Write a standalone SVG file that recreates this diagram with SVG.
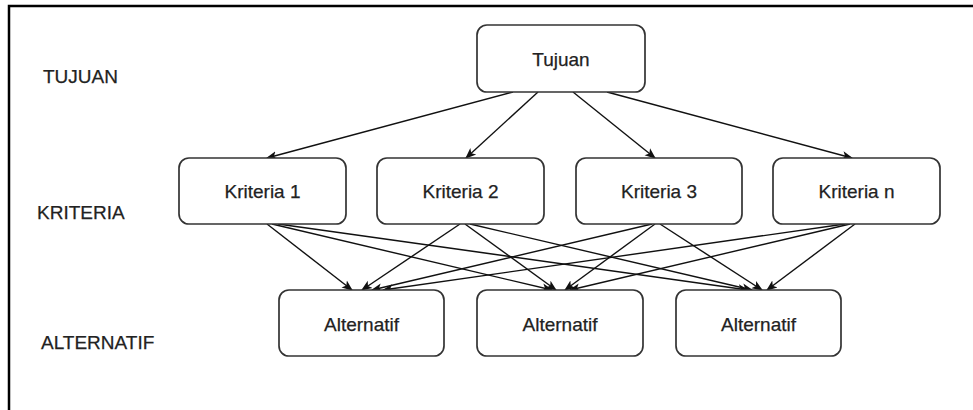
<svg xmlns="http://www.w3.org/2000/svg" width="973" height="410" viewBox="0 0 973 410">
<style>
.box{fill:#fff;stroke:#333;stroke-width:1.7}
.t{font-family:"Liberation Sans",Arial,sans-serif;font-size:19px;fill:#222;stroke:#222;stroke-width:0.25;text-anchor:middle;dominant-baseline:central}
.lbl{font-family:"Liberation Sans",Arial,sans-serif;font-size:19px;fill:#222;stroke:#222;stroke-width:0.25;dominant-baseline:central}
.e{stroke:#111;stroke-width:1.4;fill:none;marker-end:url(#arr)}
</style>
<defs>
<marker id="arr" viewBox="0 0 10 10" refX="9" refY="5" markerWidth="11" markerHeight="11" markerUnits="userSpaceOnUse" orient="auto">
<path d="M0,1 L10,5 L0,9 L2.5,5 Z" fill="#111"/>
</marker>
</defs>
<rect width="973" height="410" fill="#fff"/>
<g id="frame">
<path d="M9,410 L9,6 L973,6" fill="none" stroke="#000" stroke-width="2.5"/>
</g>
<g id="labels">
<text class="lbl" x="43" y="76">TUJUAN</text>
<text class="lbl" x="37" y="212">KRITERIA</text>
<text class="lbl" x="41" y="342">ALTERNATIF</text>
</g>
<g id="connectors">
<line class="e" x1="513" y1="92" x2="267" y2="158"/>
<line class="e" x1="538" y1="92" x2="466" y2="158"/>
<line class="e" x1="573" y1="92" x2="655" y2="158"/>
<line class="e" x1="607" y1="92" x2="852" y2="158"/>
<line class="e" x1="267" y1="224" x2="352" y2="290"/>
<line class="e" x1="272" y1="224" x2="552" y2="290"/>
<line class="e" x1="278" y1="224" x2="748" y2="290"/>
<line class="e" x1="460" y1="224" x2="362" y2="290"/>
<line class="e" x1="465" y1="224" x2="556" y2="290"/>
<line class="e" x1="470" y1="224" x2="752" y2="290"/>
<line class="e" x1="652" y1="224" x2="372" y2="290"/>
<line class="e" x1="655" y1="224" x2="565" y2="290"/>
<line class="e" x1="660" y1="224" x2="762" y2="290"/>
<line class="e" x1="845" y1="224" x2="383" y2="290"/>
<line class="e" x1="850" y1="224" x2="570" y2="290"/>
<line class="e" x1="855" y1="224" x2="767" y2="290"/>
</g>
<g id="tujuan"><rect class="box" x="477" y="25" width="168" height="67" rx="10"/><text class="t" x="561" y="59">Tujuan</text></g>
<g id="kriteria1"><rect class="box" x="179" y="158" width="167" height="66" rx="10"/><text class="t" x="262.5" y="191">Kriteria 1</text></g>
<g id="kriteria2"><rect class="box" x="377" y="158" width="167" height="66" rx="10"/><text class="t" x="460.5" y="191">Kriteria 2</text></g>
<g id="kriteria3"><rect class="box" x="576" y="158" width="166" height="66" rx="10"/><text class="t" x="659" y="191">Kriteria 3</text></g>
<g id="kriteriaN"><rect class="box" x="773" y="158" width="167" height="66" rx="10"/><text class="t" x="856.5" y="191">Kriteria n</text></g>
<g id="alternatif1"><rect class="box" x="279" y="290" width="165" height="66" rx="10"/><text class="t" x="361.5" y="324">Alternatif</text></g>
<g id="alternatif2"><rect class="box" x="477" y="290" width="166" height="66" rx="10"/><text class="t" x="560" y="324">Alternatif</text></g>
<g id="alternatif3"><rect class="box" x="676" y="290" width="165" height="66" rx="10"/><text class="t" x="758.5" y="324">Alternatif</text></g>
</svg>
